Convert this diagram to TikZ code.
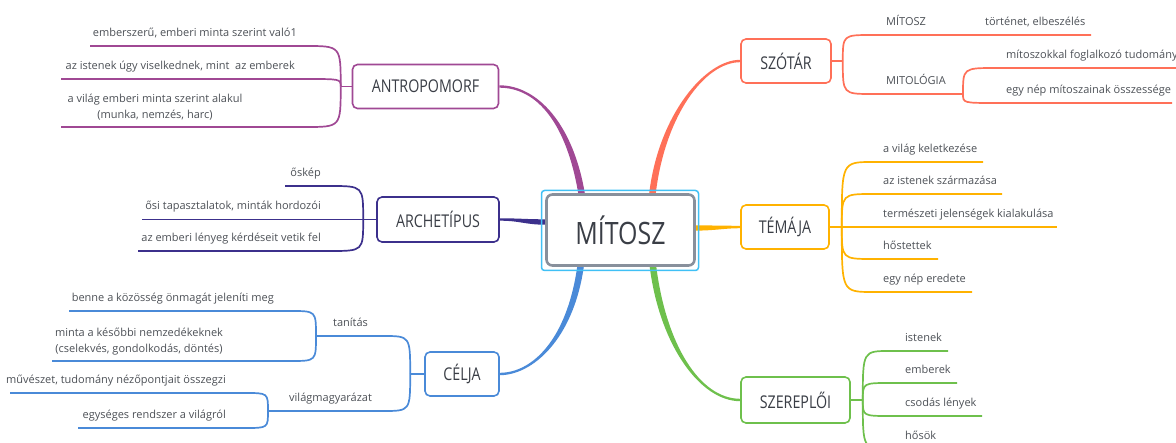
\documentclass[tikz,border=0pt]{standalone}
\usepackage{fontspec}
\setmainfont{Open Sans}
\newfontfamily\topicfont[FakeStretch=0.81]{Open Sans}
\usetikzlibrary{calc,backgrounds}
\definecolor{cPur}{RGB}{160,72,148}
\definecolor{cRed}{RGB}{255,112,88}
\definecolor{cInd}{RGB}{60,48,140}
\definecolor{cOra}{RGB}{255,178,0}
\definecolor{cBlu}{RGB}{74,138,216}
\definecolor{cGrn}{RGB}{110,192,76}
\definecolor{cGry}{RGB}{136,144,156}
\definecolor{cSel}{RGB}{64,192,245}
\definecolor{tSmall}{RGB}{76,80,86}
\definecolor{tBox}{RGB}{58,62,70}
\newcommand\taper[7]{\fill[#1] ($#2+#6$) .. controls ($#3+#6$) and ($#4+#7$) .. ($#5+#7$) -- ($#5-#7$) .. controls ($#4-#7$) and ($#3-#6$) .. ($#2-#6$) -- cycle;}
\begin{document}
\begin{tikzpicture}[x=1pt,y=-1pt,
 topic/.style={draw=#1, line width=1.6pt, rounded corners=5pt, fill=white, text=tBox, font=\topicfont\fontsize{17.6}{20}\selectfont, inner sep=0pt},
 sub/.style={text=tSmall, font=\fontsize{11}{16}\selectfont, inner sep=0pt},
 leaf/.style={draw=#1, line width=1.7pt},
]
\useasboundingbox (0,0) rectangle (1176,443);
\clip (0,0) rectangle (1176,443);

% centre
\node[draw=cSel, line width=1.5pt, rounded corners=3pt, minimum width=157pt, minimum height=80pt] (sel) at (620,230.5) {};
\node[draw=cGry, line width=2.6pt, rounded corners=6pt, fill=white, minimum width=148pt, minimum height=71pt, font=\topicfont\fontsize{30.8}{36}\selectfont, text=tBox, inner sep=0pt] (c) at (620.5,230) {MÍTOSZ};

% main topics
\node[topic=cPur, minimum width=146pt, minimum height=44pt] (ant) at (425.5,86.5) {ANTROPOMORF};
\node[topic=cRed, minimum width=90pt, minimum height=44pt] (szo) at (786,61) {SZÓTÁR};
\node[topic=cInd, minimum width=122pt, minimum height=45pt] (arc) at (438,219.5) {ARCHETÍPUS};
\node[topic=cOra, minimum width=88pt, minimum height=44pt] (tem) at (785,227) {TÉMÁJA};
\node[topic=cBlu, minimum width=74pt, minimum height=44pt] (cel) at (462,374) {CÉLJA};
\node[topic=cGrn, minimum width=109pt, minimum height=46pt] (sze) at (795.5,400) {SZEREPLŐI};

% thick branches
\begin{scope}[on background layer]
\coordinate (pA0) at ($(c.north)+(-39,0)$);
\coordinate (pB0) at ($(c.north)+(32,0)$);
\coordinate (pC0) at ($(c.south)+(-40,0)$);
\coordinate (pD0) at ($(c.south)+(32.5,0)$);
\coordinate (pE0) at ($(c.west)+(0,-8)$);
\coordinate (pF0) at ($(c.east)+(0,-2)$);
\taper{cPur}{(pA0)}{(570,125)}{(538,86.5)}{(ant.east)}{(-3.3,0)}{(0,1.2)}
\taper{cRed}{(pB0)}{(662,115)}{(705,61)}{(szo.west)}{(3.3,0)}{(0,1.2)}
\taper{cBlu}{(pC0)}{(570,340)}{(532,374)}{(cel.east)}{(-3.3,0)}{(0,-1.2)}
\taper{cGrn}{(pD0)}{(663,345)}{(700,400)}{(sze.west)}{(3.3,0)}{(0,-1.2)}
\taper{cInd}{(pE0)}{(525,222)}{(520,219.5)}{(arc.east)}{(0,2.7)}{(0,1.2)}
\taper{cOra}{(pF0)}{(715,228)}{(725,227)}{(tem.west)}{(0,2.6)}{(0,1.2)}
\end{scope}

% ANTROPOMORF
\coordinate (jA) at ($(ant.west)+(-11,0)$);
\coordinate (a1) at (306,46); \coordinate (a1l) at (90,46);
\coordinate (a2) at (306,79); \coordinate (a2l) at (61,79);
\coordinate (a3) at (306,127); \coordinate (a3l) at (61,127);
\draw[leaf=cPur] (ant.west) -- (jA);
\draw[leaf=cPur] (jA) .. controls (jA |- a1) .. (a1) -- (a1l);
\draw[leaf=cPur] (jA) .. controls (jA |- a2) .. (a2) -- (a2l);
\draw[leaf=cPur] (jA) .. controls (jA |- a3) .. (a3) -- (a3l);
\node[sub, anchor=base east] (ta1) at (297,37) {emberszerű, emberi minta szerint való1};
\node[sub, anchor=base east] (ta2) at (295,70) {az istenek úgy viselkednek, mint\ \ az emberek};
\node[sub, align=center] (ta3) at (155,107.5) {a világ emberi minta szerint alakul\\(munka, nemzés, harc)};

% SZOTAR
\coordinate (jB) at ($(szo.east)+(11,0)$);
\coordinate (b1) at (872,35); \coordinate (b1r) at (1091,35);
\coordinate (b2) at (872,94); \coordinate (jC) at (963,94);
\coordinate (c1) at (996,68); \coordinate (c1r) at (1176,68);
\coordinate (c2) at (996,103); \coordinate (c2r) at (1172,103);
\draw[leaf=cRed] (szo.east) -- (jB);
\draw[leaf=cRed] (jB) .. controls (jB |- b1) .. (b1) -- (b1r);
\draw[leaf=cRed] (jB) .. controls (jB |- b2) .. (b2) -- (jC);
\draw[leaf=cRed] (jC) .. controls (jC |- c1) .. (c1) -- (c1r);
\draw[leaf=cRed] (jC) .. controls (jC |- c2) .. (c2) -- (c2r);
\node[sub, anchor=base west] (tb1) at (886,26) {MÍTOSZ};
\node[sub, anchor=base west] (tb1b) at (985,26) {történet, elbeszélés};
\node[sub, anchor=base west] (tb2) at (886,85) {MITOLÓGIA};
\node[sub, anchor=base west] (tc1) at (1006,59) {mítoszokkal foglalkozó tudomány};
\node[sub, anchor=base west] (tc2) at (1006,94) {egy nép mítoszainak összessége};

% ARCHETIPUS
\coordinate (jH) at ($(arc.west)+(-13,0)$);
\coordinate (h1) at (330,186); \coordinate (h1l) at (285,186);
\coordinate (h2l) at (142,219.5);
\coordinate (h3) at (330,251); \coordinate (h3l) at (138,251);
\draw[leaf=cInd] (arc.west) -- (jH) -- (h2l);
\draw[leaf=cInd] (jH) .. controls (jH |- h1) .. (h1) -- (h1l);
\draw[leaf=cInd] (jH) .. controls (jH |- h3) .. (h3) -- (h3l);
\node[sub, anchor=base east] (th1) at (321,177) {őskép};
\node[sub, anchor=base east] (th2) at (321,210) {ősi tapasztalatok, minták hordozói};
\node[sub, anchor=base east] (th3) at (321,242) {az emberi lényeg kérdéseit vetik fel};

% TEMAJA
\coordinate (jD) at ($(tem.east)+(12,0)$);
\coordinate (d1) at (873,162); \coordinate (d1r) at (983,162);
\coordinate (d2) at (873,194); \coordinate (d2r) at (1002,194);
\coordinate (d3r) at (1057,227);
\coordinate (d4) at (873,259); \coordinate (d4r) at (938,259);
\coordinate (d5) at (873,292); \coordinate (d5r) at (972,292);
\draw[leaf=cOra] (tem.east) -- (jD) -- (d3r);
\draw[leaf=cOra] (jD) .. controls (jD |- d1) .. (d1) -- (d1r);
\draw[leaf=cOra] (jD) .. controls (jD |- d2) .. (d2) -- (d2r);
\draw[leaf=cOra] (jD) .. controls (jD |- d4) .. (d4) -- (d4r);
\draw[leaf=cOra] (jD) .. controls (jD |- d5) .. (d5) -- (d5r);
\node[sub, anchor=base west] (td1) at (883,153) {a világ keletkezése};
\node[sub, anchor=base west] (td2) at (883,185) {az istenek származása};
\node[sub, anchor=base west] (td3) at (883,218) {természeti jelenségek kialakulása};
\node[sub, anchor=base west] (td4) at (883,250) {hőstettek};
\node[sub, anchor=base west] (td5) at (883,283) {egy nép eredete};

% CELJA
\coordinate (jE) at ($(cel.west)+(-14,0)$);
\coordinate (e1) at (383,336); \coordinate (jF) at (316,336);
\coordinate (e2) at (383,411); \coordinate (jG) at (268,411);
\coordinate (f1) at (291,311); \coordinate (f1l) at (69,311);
\coordinate (f2) at (291,361); \coordinate (f2l) at (52,361);
\coordinate (g1) at (245,393); \coordinate (g1l) at (10,393);
\coordinate (g2) at (245,428); \coordinate (g2l) at (78,428);
\draw[leaf=cBlu] (cel.west) -- (jE);
\draw[leaf=cBlu] (jE) .. controls (jE |- e1) .. (e1) -- (jF);
\draw[leaf=cBlu] (jE) .. controls (jE |- e2) .. (e2) -- (jG);
\draw[leaf=cBlu] (jF) .. controls (jF |- f1) .. (f1) -- (f1l);
\draw[leaf=cBlu] (jF) .. controls (jF |- f2) .. (f2) -- (f2l);
\draw[leaf=cBlu] (jG) .. controls (jG |- g1) .. (g1) -- (g1l);
\draw[leaf=cBlu] (jG) .. controls (jG |- g2) .. (g2) -- (g2l);
\node[sub, anchor=base west] (te1) at (333,327) {tanítás};
\node[sub, anchor=base west] (te2) at (289,402) {világmagyarázat};
\node[sub, anchor=base east] (tf1) at (274,302) {benne a közösség önmagát jeleníti meg};
\node[sub, align=center] (tf2) at (139,341.5) {minta a későbbi nemzedékeknek\\(cselekvés, gondolkodás, döntés)};
\node[sub, anchor=base east] (tg1) at (226,384) {művészet, tudomány nézőpontjait összegzi};
\node[sub, anchor=base east] (tg2) at (226,419) {egységes rendszer a világról};

% SZEREPLOI
\coordinate (jI) at ($(sze.east)+(12,0)$);
\coordinate (i1) at (890,351); \coordinate (i1r) at (948,351);
\coordinate (i2) at (890,383); \coordinate (i2r) at (957,383);
\coordinate (i3) at (890,416); \coordinate (i3r) at (982,416);
\coordinate (i4) at (890,449); \coordinate (i4r) at (945,449);
\draw[leaf=cGrn] (sze.east) -- (jI);
\draw[leaf=cGrn] (jI) .. controls (jI |- i1) .. (i1) -- (i1r);
\draw[leaf=cGrn] (jI) .. controls (jI |- i2) .. (i2) -- (i2r);
\draw[leaf=cGrn] (jI) .. controls (jI |- i3) .. (i3) -- (i3r);
\draw[leaf=cGrn] (jI) .. controls (jI |- i4) .. (i4) -- (i4r);
\node[sub, anchor=base west] (ti1) at (905,342) {istenek};
\node[sub, anchor=base west] (ti2) at (905,374) {emberek};
\node[sub, anchor=base west] (ti3) at (905,407) {csodás lények};
\node[sub, anchor=base west] (ti4) at (905,440) {hősök};
\end{tikzpicture}
\end{document}
